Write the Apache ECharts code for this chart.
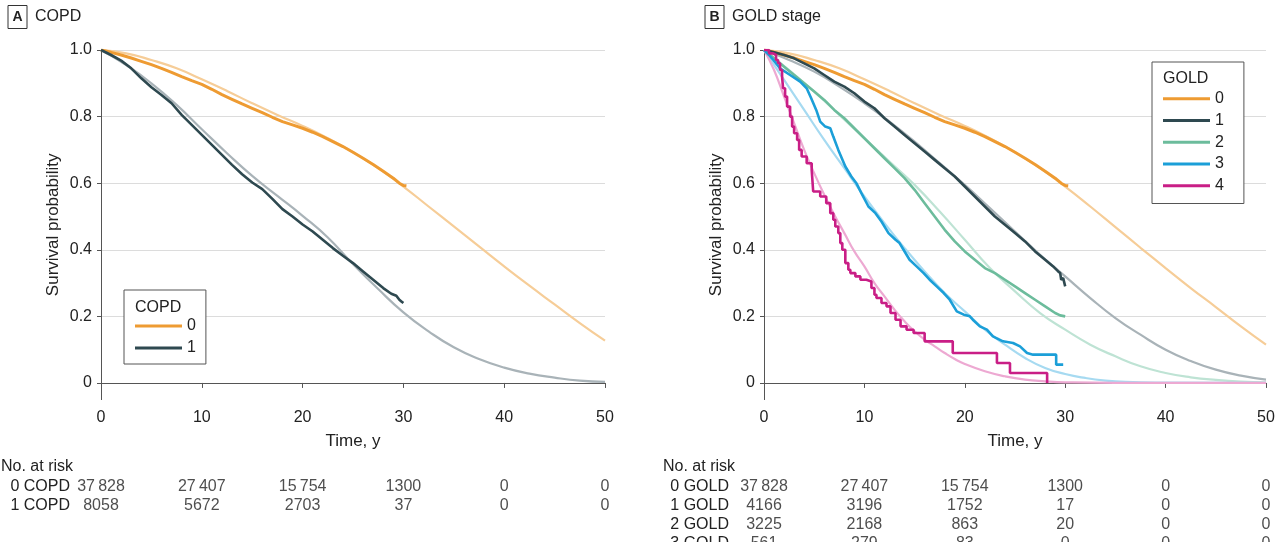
<!DOCTYPE html>
<html><head><meta charset="utf-8">
<script src="https://cdn.jsdelivr.net/npm/echarts@6/dist/echarts.min.js"></script>
<style>html,body{margin:0;padding:0;background:#fff}#c{width:1280px;height:542px}</style>
</head><body><div id="c"></div>
<script>
// ---------- DATA ----------
const yTicks = [0, 0.2, 0.4, 0.6, 0.8, 1.0];
const xTicks = [0, 10, 20, 30, 40, 50];

// Panel A: COPD (Kaplan-Meier and fitted)
const kmCopd0 = [[0,1],[1,0.993],[2,0.985],[3,0.976],[4,0.966],[5,0.956],[6,0.945],[7,0.933],[8,0.92],[9,0.908],[10,0.897],[11,0.882],[12,0.866],[13,0.852],[14,0.838],[15,0.825],[16,0.812],[17,0.798],[18,0.785],[19,0.775],[20,0.765],[21,0.753],[22,0.74],[23,0.725],[24,0.71],[25,0.693],[26,0.675],[27,0.656],[28,0.636],[29,0.615],[29.6,0.6],[30,0.593],[30.3,0.592]];
const kmCopd1 = [[0,1],[1,0.985],[2,0.968],[3,0.945],[4,0.915],[5,0.888],[6,0.865],[7,0.84],[8,0.805],[9,0.775],[10,0.745],[11,0.715],[12,0.685],[13,0.655],[14,0.627],[15,0.602],[16,0.582],[17,0.553],[18,0.522],[19,0.5],[20,0.476],[21,0.455],[22,0.43],[23,0.405],[24,0.382],[25,0.36],[26,0.335],[27,0.31],[28,0.285],[28.8,0.268],[29.3,0.262],[29.6,0.25],[29.8,0.245],[30,0.24]];
const fitCopd0 = [[0,1],[2.5,0.99],[5,0.97],[7.5,0.945],[10,0.912],[12.5,0.877],[15,0.84],[17.5,0.805],[20,0.772],[22.5,0.735],[25,0.693],[27.5,0.645],[30,0.59],[32.5,0.53],[35,0.47],[37.5,0.41],[40,0.35],[42.5,0.292],[45,0.236],[47.5,0.18],[50,0.127]];
const fitCopd1 = [[0,1],[2.5,0.955],[5,0.9],[7.5,0.835],[10,0.762],[12.5,0.69],[15,0.622],[17.5,0.562],[20,0.502],[22.5,0.437],[25,0.357],[27.5,0.282],[30,0.212],[32.5,0.155],[35,0.107],[37.5,0.072],[40,0.046],[42.5,0.028],[45,0.016],[47.5,0.007],[50,0.003]];

// Panel B: GOLD stage
const kmGold0 = kmCopd0;
const kmGold1 = [[0,1],[1,0.993],[2,0.985],[3,0.975],[4,0.96],[5,0.945],[6,0.925],[7,0.905],[8,0.89],[9,0.87],[10,0.845],[11,0.825],[12,0.795],[13,0.77],[14,0.745],[15,0.72],[16,0.695],[17,0.67],[18,0.645],[19,0.62],[20,0.59],[21,0.56],[22,0.53],[23,0.5],[24,0.475],[25,0.45],[26,0.425],[27,0.395],[28,0.37],[28.8,0.35],[29.3,0.335],[29.5,0.33],[29.6,0.31],[29.8,0.315],[30,0.29]];
const kmGold2 = [[0,1],[1,0.975],[2,0.95],[3,0.925],[4,0.9],[5,0.875],[6,0.85],[7,0.82],[8,0.795],[9,0.765],[10,0.735],[11,0.705],[12,0.675],[13,0.645],[14,0.615],[15,0.58],[16,0.54],[17,0.5],[18,0.46],[19,0.425],[20,0.395],[21,0.37],[22,0.345],[23,0.33],[24,0.31],[25,0.29],[26,0.27],[27,0.25],[28,0.23],[29,0.21],[29.5,0.203],[30,0.2]];
const kmGold3 = [[0,1],[0.5,0.985],[0.93,0.97],[1.6,0.945],[2.6,0.925],[3.6,0.905],[4.25,0.885],[4.7,0.855],[5.2,0.82],[5.6,0.785],[6.1,0.77],[6.6,0.765],[6.9,0.74],[7.4,0.7],[8.1,0.65],[8.7,0.62],[9.2,0.6],[9.7,0.57],[10.4,0.53],[11.1,0.51],[11.7,0.485],[12.4,0.45],[13.1,0.43],[13.5,0.42],[13.9,0.4],[14.5,0.37],[15.2,0.35],[15.9,0.33],[16.5,0.31],[17.2,0.29],[17.9,0.27],[18.5,0.25],[19.2,0.215],[19.9,0.205],[20.5,0.2],[20.8,0.19],[21.5,0.17],[22.2,0.16],[22.8,0.14],[23.8,0.125],[24.8,0.12],[25.5,0.11],[26.2,0.09],[26.8,0.085],[29.1,0.085],[29.1,0.055],[29.8,0.055]];
const kmGold4 = [[0,1],[0.5,0.99],[0.9,0.985],[1.2,0.97],[1.4,0.96],[1.6,0.94],[1.8,0.92],[1.9,0.885],[2.1,0.86],[2.3,0.83],[2.6,0.8],[2.8,0.77],[3.0,0.75],[3.3,0.73],[3.5,0.7],[3.75,0.68],[4.25,0.66],[4.75,0.64],[4.9,0.575],[5.6,0.56],[6.2,0.54],[6.6,0.51],[6.9,0.49],[7.1,0.47],[7.4,0.45],[7.6,0.42],[7.8,0.4],[8.1,0.36],[8.4,0.34],[8.6,0.33],[9.1,0.32],[9.6,0.31],[10.2,0.305],[10.7,0.285],[11.0,0.265],[11.2,0.255],[11.7,0.24],[12.2,0.23],[12.6,0.21],[13.1,0.19],[13.6,0.17],[14.2,0.16],[14.9,0.15],[16.0,0.125],[18.8,0.09],[23.2,0.06],[24.5,0.03],[28.2,0]];
const fitGold0 = [[0,1],[2.5,0.99],[5,0.97],[7.5,0.945],[10,0.912],[12.5,0.877],[15,0.84],[17.5,0.805],[20,0.772],[22.5,0.735],[25,0.693],[27.5,0.645],[30,0.59],[32.5,0.53],[35,0.468],[37.5,0.406],[40,0.345],[42.5,0.285],[45,0.228],[47.5,0.17],[50,0.115]];
const fitGold1 = [[0,1],[2.5,0.97],[5,0.935],[7.5,0.89],[10,0.84],[12.5,0.785],[15,0.725],[17.5,0.66],[20,0.595],[22.5,0.525],[25,0.455],[27.5,0.385],[30,0.32],[32.5,0.255],[35,0.195],[37.5,0.145],[40,0.1],[42.5,0.066],[45,0.04],[47.5,0.022],[50,0.01]];
const fitGold2 = [[0,1],[2.5,0.94],[5,0.875],[7.5,0.805],[10,0.735],[12.5,0.665],[15,0.595],[17.5,0.515],[20,0.43],[22.5,0.345],[25,0.275],[27.5,0.21],[30,0.16],[32.5,0.115],[35,0.08],[37.5,0.05],[40,0.03],[42.5,0.017],[45,0.009],[47.5,0.004],[50,0.002]];
const fitGold3 = [[0,1],[2,0.91],[4,0.82],[6,0.73],[8,0.645],[10,0.56],[12,0.48],[14,0.405],[16,0.335],[18,0.27],[20,0.215],[22,0.16],[24,0.115],[26,0.075],[28,0.045],[30,0.027],[32,0.015],[34,0.007],[36,0.003],[40,0.001],[50,0]];
const fitGold4 = [[0,1],[1,0.94],[2,0.86],[3,0.78],[4,0.7],[5,0.63],[6,0.565],[7,0.505],[8,0.45],[9,0.395],[10,0.35],[11,0.3],[12,0.26],[13,0.22],[14,0.185],[15,0.155],[16,0.13],[17,0.11],[18,0.09],[19,0.072],[20,0.057],[22,0.035],[24,0.02],[26,0.01],[28,0.005],[30,0.002],[35,0],[50,0]];

// Numbers at risk
const riskTimes = [0, 10, 20, 30, 40, 50];
const riskRowsA = ['0 COPD', '1 COPD'];
const riskA = [[37828, 27407, 15754, 1300, 0, 0], [8058, 5672, 2703, 37, 0, 0]];
const riskRowsB = ['0 GOLD', '1 GOLD', '2 GOLD', '3 GOLD'];
const riskB = [[37828, 27407, 15754, 1300, 0, 0], [4166, 3196, 1752, 17, 0, 0], [3225, 2168, 863, 20, 0, 0], [561, 279, 83, 0, 0, 0]];

// ---------- STYLE ----------
const FONT = '"Liberation Sans", Arial, sans-serif';
const TXT = '#222';
const AX = '#555';
const C = {
  k0: '#EE9B32', f0: '#F6CD98',
  k1: '#2E4950', f1: '#A9B3B8',
  k2: '#6CBC9C', f2: '#BEE3D4',
  k3: '#1B9FD8', f3: '#A6DAF1',
  k4: '#C91E86', f4: '#EDA9D2'
};

function fmtNum(v) {
  const s = String(v);
  return s.length >= 5 ? s.slice(0, s.length - 3) + '\u2009' + s.slice(-3) : s;
}

function xAxisPlot(gi) {
  return {
    gridIndex: gi, type: 'value', min: 0, max: 50, interval: 10,
    name: 'Time, y', nameLocation: 'middle', nameGap: 33,
    nameTextStyle: { fontSize: 17, color: TXT, fontFamily: FONT },
    axisLine: { show: true, lineStyle: { color: AX, width: 1 } },
    axisTick: { show: true, length: 5, lineStyle: { color: AX } },
    axisLabel: { fontSize: 16, color: TXT, fontFamily: FONT, margin: 10 },
    splitLine: { show: false }
  };
}
function yAxisPlot(gi) {
  return {
    gridIndex: gi, type: 'value', min: -0.05, max: 1,
    name: 'Survival probability', nameLocation: 'middle', nameGap: 39,
    nameTextStyle: { fontSize: 17, color: TXT, fontFamily: FONT },
    axisLine: { show: true, lineStyle: { color: AX, width: 1 } },
    axisTick: { show: true, length: 4, customValues: yTicks, lineStyle: { color: AX } },
    axisLabel: { fontSize: 16, color: TXT, fontFamily: FONT, margin: 9, customValues: yTicks,
      formatter: v => (Math.abs(v) < 1e-9 ? '0' : v.toFixed(1)) },
    splitLine: { show: true, lineStyle: { color: '#DCDCDC', width: 1 } }
  };
}
function xAxisRisk(gi) {
  return { gridIndex: gi, type: 'value', min: 0, max: 50, show: false };
}
function yAxisRisk(gi, rows, margin, maxV) {
  const idx = rows.map((r, i) => i);
  return {
    gridIndex: gi, type: 'value', inverse: true, min: -0.5, max: maxV,
    axisLine: { show: false }, axisTick: { show: false }, splitLine: { show: false },
    axisLabel: { customValues: idx, fontSize: 16, color: TXT, fontFamily: FONT, margin: margin,
      formatter: v => rows[Math.round(v)] || '' }
  };
}
function km(name, data, color, xi, w) {
  return { name, type: 'line', xAxisIndex: xi, yAxisIndex: xi, data, color,
    showSymbol: false, symbol: 'none', z: 5, silent: true,
    lineStyle: { color, width: w || 2.6 } };
}
function fit(name, data, color, xi) {
  return { name, type: 'line', xAxisIndex: xi, yAxisIndex: xi, data, color,
    smooth: 0.5, showSymbol: false, symbol: 'none', z: 3, silent: true,
    lineStyle: { color, width: 2.2 } };
}
function riskSeries(name, vals, idx) {
  const data = [];
  vals.forEach((row, r) => row.forEach((v, i) => data.push([riskTimes[i], r, v])));
  return { name, type: 'scatter', xAxisIndex: idx, yAxisIndex: idx, data,
    symbolSize: 1, itemStyle: { color: 'rgba(0,0,0,0)' }, silent: true,
    label: { show: true, position: 'inside', fontSize: 16, color: TXT, fontFamily: FONT,
      formatter: p => fmtNum(p.value[2]) } };
}
function legend(names, left, top, padding, lh) {
  return {
    data: names, left, top, orient: 'vertical', icon: 'rect',
    itemWidth: 47, itemHeight: 3, itemGap: 0, padding,
    borderColor: '#555', borderWidth: 1, backgroundColor: '#fff',
    selectedMode: false, formatter: n => n.slice(1),
    textStyle: { fontSize: 16, color: TXT, fontFamily: FONT, lineHeight: lh }
  };
}
function panelTitle(x, letter, text) {
  return [
    { type: 'rect', shape: { x: x, y: 5.5, width: 19, height: 23 }, style: { fill: '#fff', stroke: '#333', lineWidth: 1 } },
    { type: 'text', x: x + 9.5, y: 17, style: { text: letter, font: 'bold 14px ' + FONT, fill: TXT, align: 'center', verticalAlign: 'middle' } },
    { type: 'text', x: x + 27, y: 17, style: { text: text, font: '16px ' + FONT, fill: TXT, verticalAlign: 'middle' } }
  ];
}

const chart = echarts.init(document.getElementById('c'), null, { renderer: 'canvas' });
chart.setOption({
  backgroundColor: '#fff',
  animation: false,
  textStyle: { fontFamily: FONT },
  grid: [
    { left: 101, top: 50, width: 504, height: 349.6, outerBoundsMode: 'none', containLabel: false },
    { left: 764, top: 50, width: 502, height: 349.6, outerBoundsMode: 'none', containLabel: false },
    { left: 101, top: 477, width: 504, height: 28.5, outerBoundsMode: 'none', containLabel: false },
    { left: 764, top: 477, width: 502, height: 66.5, outerBoundsMode: 'none', containLabel: false }
  ],
  xAxis: [xAxisPlot(0), xAxisPlot(1), xAxisRisk(2), xAxisRisk(3)],
  yAxis: [yAxisPlot(0), yAxisPlot(1), yAxisRisk(2, riskRowsA, 31, 1), yAxisRisk(3, riskRowsB, 35, 3)],
  legend: [
    legend(['A0', 'A1'], 124, 290, [25, 10, 5, 11], 22),
    legend(['B0', 'B1', 'B2', 'B3', 'B4'], 1152, 62, [26, 20, 7, 11], 21.7)
  ],
  graphic: [].concat(
    panelTitle(8, 'A', 'COPD'),
    panelTitle(705, 'B', 'GOLD stage'),
    [
      { type: 'text', x: 135, y: 308, style: { text: 'COPD', font: '16px ' + FONT, fill: TXT, verticalAlign: 'middle' }, z: 100 },
      { type: 'text', x: 1163, y: 79, style: { text: 'GOLD', font: '16px ' + FONT, fill: TXT, verticalAlign: 'middle' }, z: 100 },
      { type: 'text', x: 1, y: 467, style: { text: 'No. at risk', font: '16px ' + FONT, fill: TXT, verticalAlign: 'middle' } },
      { type: 'text', x: 663, y: 467, style: { text: 'No. at risk', font: '16px ' + FONT, fill: TXT, verticalAlign: 'middle' } }
    ]
  ),
  series: [
    fit('A0s', fitCopd0, C.f0, 0),
    fit('A1s', fitCopd1, C.f1, 0),
    km('A0', kmCopd0, C.k0, 0, 3),
    km('A1', kmCopd1, C.k1, 0, 2.6),
    fit('B0s', fitGold0, C.f0, 1),
    fit('B1s', fitGold1, C.f1, 1),
    fit('B2s', fitGold2, C.f2, 1),
    fit('B3s', fitGold3, C.f3, 1),
    fit('B4s', fitGold4, C.f4, 1),
    km('B0', kmGold0, C.k0, 1, 3),
    km('B1', kmGold1, C.k1, 1, 2.6),
    km('B2', kmGold2, C.k2, 1, 2.6),
    km('B3', kmGold3, C.k3, 1, 2.6),
    Object.assign(km('B4', kmGold4, C.k4, 1, 2.6), { step: 'end' }),
    riskSeries('riskA', riskA, 2),
    riskSeries('riskB', riskB, 3)
  ]
});
</script>
</body></html>
